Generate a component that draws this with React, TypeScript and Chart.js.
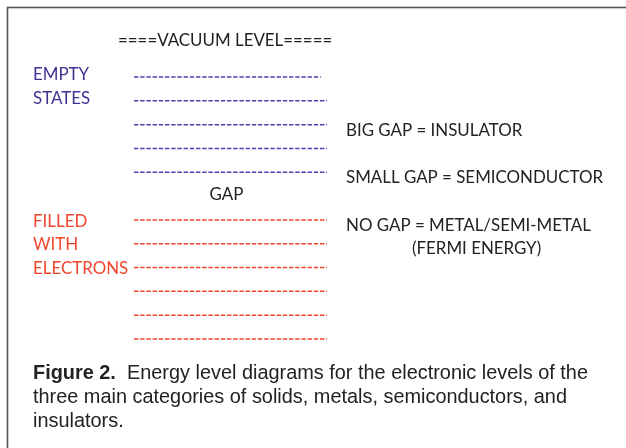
import { useEffect, useRef } from "react";
import { Chart, registerables } from "chart.js";
Chart.register(...registerables);

// Energy levels (arbitrary units, one unit = one level spacing)
const emptyLevels = [11, 10, 9, 8, 7];
const emptyDashCounts = [30, 31, 31, 31, 31];
const filledLevels = [5, 4, 3, 2, 1, 0];
const filledDashCounts = [31, 31, 31, 31, 31, 31];
const vacuumLevel = 12.55;
const gapLevel = 6.05;

const vacuumLabel = "====VACUUM LEVEL=====";
const gapLabel = "GAP";
const emptyLabels = ["EMPTY", "STATES"];
const emptyLabelLevels = [11.1, 10.1];
const filledLabels = ["FILLED", "WITH", "ELECTRONS"];
const filledLabelLevels = [4.95, 3.95, 2.95];
const gapNotes = [
  "BIG GAP = INSULATOR",
  "SMALL GAP = SEMICONDUCTOR",
  "NO GAP = METAL/SEMI-METAL",
  "(FERMI ENERGY)",
];
const gapNoteLevels = [8.75, 6.77, 4.78, 3.8];
const captionBold = "Figure 2.";
const captionLines = [
  "  Energy level diagrams for the electronic levels of the",
  "three main categories of solids, metals, semiconductors, and",
  "insulators.",
];

const BLUE = "#3d3393";
const BLUE_DASH = "#4b41b0";
const RED = "#f0452c";
const INK = "#222222";
const LABEL_FONT = '16.9px Lato, "Open Sans", sans-serif';
const CAPTION_FONT = '19.9px "Liberation Sans", Arial, sans-serif';
const CAPTION_BOLD = 'bold 19.9px "Liberation Sans", Arial, sans-serif';

export default function App() {
  const ref = useRef<HTMLCanvasElement | null>(null);
  useEffect(() => {
    if (!ref.current) return;
    const mk = (lv: number, n: number, color: string) => ({
      data: [
        { x: 0, y: lv },
        { x: n, y: lv },
      ],
      borderColor: color,
      borderWidth: 1.5,
      borderDash: [4.4, 1.8],
      pointRadius: 0,
      clip: false as any,
      tension: 0,
    });
    const datasets = [
      ...emptyLevels.map((lv, i) => mk(lv, emptyDashCounts[i], BLUE_DASH)),
      ...filledLevels.map((lv, i) => mk(lv, filledDashCounts[i], RED)),
    ];
    const textPlugin = {
      id: "texts",
      beforeDraw(chart: any) {
        const c = chart.ctx;
        c.save();
        c.fillStyle = "#ffffff";
        c.fillRect(0, 0, chart.width, chart.height);
        c.strokeStyle = "#555555";
        c.lineWidth = 1.6;
        c.strokeRect(7.5, 7.5, 700, 600);
        c.restore();
      },
      afterDraw(chart: any) {
        const c = chart.ctx;
        const ys = chart.scales.y;
        const xs = chart.scales.x;
        c.save();
        c.textBaseline = "middle";
        c.font = LABEL_FONT;
        c.fillStyle = INK;
        c.textAlign = "left";
        c.fillText(vacuumLabel, 118, ys.getPixelForValue(vacuumLevel));
        c.textAlign = "center";
        c.fillText(gapLabel, (xs.left + xs.right) / 2 - 4, ys.getPixelForValue(gapLevel));
        c.textAlign = "left";
        c.fillStyle = BLUE;
        emptyLabels.forEach((t, i) => c.fillText(t, 33, ys.getPixelForValue(emptyLabelLevels[i])));
        c.fillStyle = RED;
        filledLabels.forEach((t, i) => c.fillText(t, 33, ys.getPixelForValue(filledLabelLevels[i])));
        c.fillStyle = INK;
        gapNotes.forEach((t, i) => {
          const x = i === 3 ? xs.right + 85 : xs.right + 19;
          c.fillText(t, x, ys.getPixelForValue(gapNoteLevels[i]));
        });
        // caption
        c.fillStyle = INK;
        c.font = CAPTION_BOLD;
        c.fillText(captionBold, 33, 374);
        const bw = c.measureText(captionBold).width;
        c.font = CAPTION_FONT;
        c.fillText(captionLines[0], 33 + bw, 374);
        c.fillText(captionLines[1], 33, 398);
        c.fillText(captionLines[2], 33, 422);
        c.restore();
      },
    };
    const chart = new Chart(ref.current, {
      type: "line",
      data: { datasets },
      options: {
        animation: false,
        responsive: false,
        maintainAspectRatio: false,
        layout: { padding: { left: 134, right: 299, top: 77, bottom: 109 } },
        plugins: { legend: { display: false }, tooltip: { enabled: false } },
        scales: {
          x: { type: "linear", min: 0, max: 31, display: false },
          y: { type: "linear", min: 0, max: 11, display: false },
        },
      },
      plugins: [textPlugin],
    });
    return () => chart.destroy();
  }, []);
  return (
    <canvas
      ref={ref}
      width={626}
      height={448}
      style={{ position: "absolute", left: 0, top: 0, width: 626, height: 448 }}
    />
  );
}
